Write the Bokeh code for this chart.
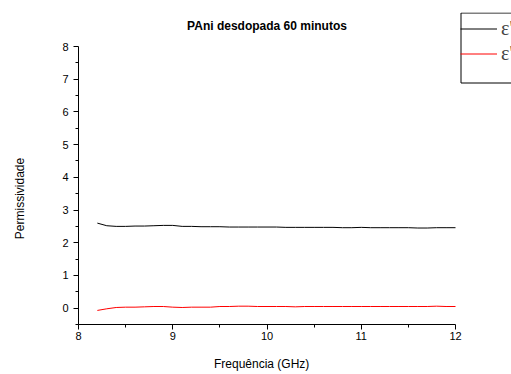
from bokeh.plotting import figure
from bokeh.models import Range1d, Legend, LegendItem, FixedTicker, Label, BoxAnnotation
from bokeh.embed import file_html
from bokeh.resources import INLINE

freq = [8.2, 8.3, 8.4, 8.5, 8.6, 8.7, 8.8, 8.9, 9.0, 9.1, 9.2, 9.3, 9.4, 9.5, 9.6, 9.7, 9.8,
        9.9, 10.0, 10.1, 10.2, 10.3, 10.4, 10.5, 10.6, 10.7, 10.8, 10.9, 11.0, 11.1, 11.2,
        11.3, 11.4, 11.5, 11.6, 11.7, 11.8, 11.9, 12.0]
eps_real = [2.60, 2.52, 2.50, 2.50, 2.51, 2.51, 2.52, 2.53, 2.53, 2.50, 2.50, 2.49, 2.49,
            2.49, 2.48, 2.48, 2.48, 2.48, 2.48, 2.48, 2.47, 2.47, 2.47, 2.47, 2.47, 2.47,
            2.46, 2.46, 2.47, 2.46, 2.46, 2.46, 2.46, 2.46, 2.45, 2.45, 2.46, 2.46, 2.46]
eps_imag = [-0.07, -0.02, 0.02, 0.03, 0.03, 0.04, 0.05, 0.05, 0.03, 0.02, 0.03, 0.03, 0.03,
            0.05, 0.05, 0.06, 0.06, 0.05, 0.05, 0.05, 0.05, 0.04, 0.05, 0.05, 0.05, 0.05,
            0.05, 0.05, 0.05, 0.05, 0.05, 0.05, 0.05, 0.05, 0.05, 0.05, 0.06, 0.05, 0.05]
x_ticks = [8, 9, 10, 11, 12]
y_ticks = [0, 1, 2, 3, 4, 5, 6, 7, 8]
y_min = -0.5
title_text = "PAni desdopada 60 minutos"

# layout (pixels): axes box 78..455 x 46..324, drawing area extended to fit legend/title
W, H = 511, 374
ax_l, ax_r, ax_t, ax_b = 78, 455, 46, 324
fr_t = 12
x0, x1 = x_ticks[0], x_ticks[-1]
y1 = y_ticks[-1]
ppx = (ax_r - ax_l) / (x1 - x0)
ppy = (ax_b - ax_t) / (y1 - y_min)
x_end = x1 + (W - ax_r) / ppx
y_end = y1 + (ax_t - fr_t) / ppy


def px_x(px):
    return x0 + (px - ax_l) / ppx


def px_y(py):
    return y_min + (ax_b - py) / ppy


p = figure(width=W, height=H, output_backend="svg", toolbar_location=None,
           x_range=Range1d(x0, x_end), y_range=Range1d(y_min, y_end),
           min_border_left=ax_l, min_border_right=0, min_border_top=fr_t,
           min_border_bottom=H - ax_b)

r1 = p.line(freq, eps_real, line_color="black", line_width=1)
r2 = p.line(freq, eps_imag, line_color="red", line_width=1)

p.add_layout(Label(x=(x0 + x1) / 2, y=px_y(25), text=title_text,
                   text_align="center", text_baseline="middle",
                   text_font="Liberation Sans", text_font_size="12px",
                   text_font_style="bold", text_color="black"))

p.grid.visible = False
p.outline_line_color = None
p.background_fill_color = "white"
p.border_fill_color = "white"

for ax in (p.xaxis[0], p.yaxis[0]):
    ax.major_label_text_font = "Liberation Sans"
    ax.major_label_text_font_size = "11px"
    ax.major_label_text_color = "black"
    ax.axis_label_text_font = "Liberation Sans"
    ax.axis_label_text_font_size = "12px"
    ax.axis_label_text_font_style = "normal"
    ax.axis_label_text_color = "black"
    ax.major_tick_in = 0
    ax.major_tick_out = 5
    ax.minor_tick_in = 0
    ax.minor_tick_out = 3
    ax.axis_line_color = "black"
    ax.major_tick_line_color = "black"
    ax.minor_tick_line_color = "black"

p.xaxis[0].bounds = (x0, x1)
p.yaxis[0].bounds = (y_min, y1)
p.xaxis[0].ticker = FixedTicker(ticks=x_ticks, minor_ticks=[8.5, 9.5, 10.5, 11.5])
p.yaxis[0].ticker = FixedTicker(ticks=y_ticks, minor_ticks=[-0.5, 0.5, 1.5, 2.5, 3.5, 4.5, 5.5, 6.5, 7.5])
p.xaxis[0].axis_label = "Frequência (GHz)" + "\u00a0" * 20
p.yaxis[0].axis_label = "Permissividade" + "\u00a0" * 18
p.xaxis[0].major_label_standoff = 2
p.xaxis[0].axis_label_standoff = 14
p.yaxis[0].axis_label_standoff = 32
p.yaxis[0].major_label_orientation = "horizontal"

# legend frame
p.add_layout(BoxAnnotation(left=px_x(460.5), right=x_end + 1, top=px_y(12.5), bottom=px_y(82.5),
                           fill_color="white", fill_alpha=1, line_color="black",
                           line_alpha=1, line_width=1))

pad, row = 2, 25
legend = Legend(items=[LegendItem(label="ε'", renderers=[r1]),
                       LegendItem(label="ε''", renderers=[r2])],
                location=(460 - ax_l, ax_b - (12 + 2 * pad + 2 * row)))
legend.label_text_font = "Liberation Serif"
legend.label_text_font_size = "20px"
legend.glyph_width = 37
legend.glyph_height = row
legend.label_height = row
legend.label_standoff = 4
legend.spacing = 0
legend.padding = pad
legend.margin = 0
legend.border_line_color = None
legend.background_fill_alpha = 0
p.add_layout(legend, "center")

open("out.html", "w").write(file_html(p, INLINE))
